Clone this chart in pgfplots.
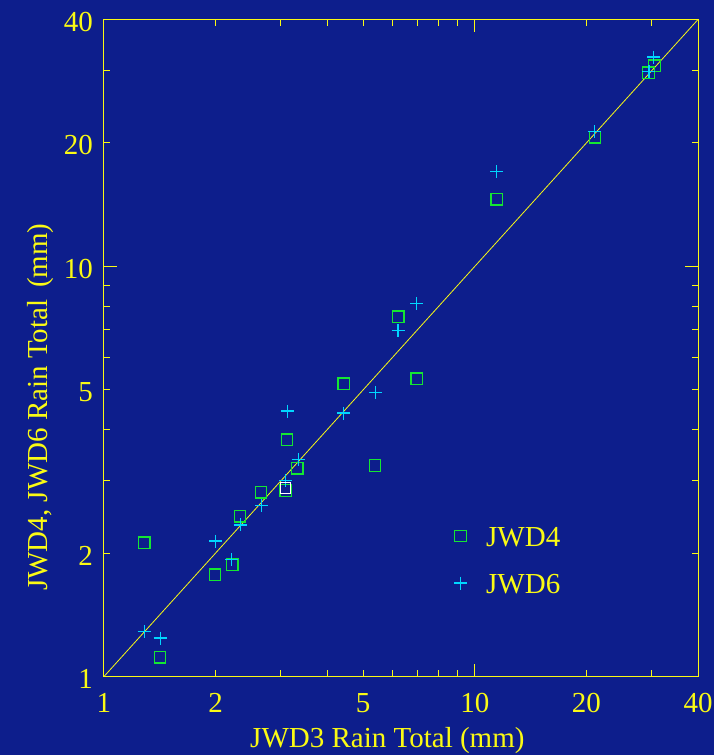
\documentclass[border=0pt]{standalone}
\usepackage{pgfplots}
\pgfplotsset{compat=1.18}
\usepackage{fontspec}
\setmainfont{Liberation Serif}
\definecolor{bg}{RGB}{13,30,140}
\definecolor{yel}{RGB}{250,250,20}
\definecolor{grn}{RGB}{20,230,50}
\definecolor{cyn}{RGB}{0,215,255}
\begin{document}
\begin{tikzpicture}
\path[fill=bg, use as bounding box] (-104pt,-78.5pt) rectangle (610pt,676.5pt);
\begin{axis}[
  scale only axis,
  width=594pt, height=657pt,
  anchor=south west, at={(0pt,0pt)},
  xmode=log, ymode=log,
  xmin=1, xmax=40, ymin=1, ymax=40,
  axis line style={yel, line width=1pt},
  tick style={yel, line width=1pt},
  tick align=inside,
  xtick={1,2,5,10,20,40}, xticklabels={1,2,5,10,20,40},
  ytick={1,2,5,10,20,40}, yticklabels={1,2,5,10,20,40},
  major tick length=0pt,
  minor xtick={2,3,4,5,6,7,8,9,20,30},
  minor ytick={2,3,4,5,6,7,8,9,20,30},
  minor tick length=6.5pt,
  extra x ticks={10}, extra x tick labels={},
  extra y ticks={10}, extra y tick labels={},
  extra tick style={major tick length=13pt},
  /pgf/number format/assume math mode=true,
  tick label style={font=\fontsize{29}{34}\selectfont, text=yel, inner sep=0pt},
  xticklabel style={anchor=base, yshift=-36pt},
  yticklabel style={anchor=east, xshift=-11pt, yshift=-2.5pt},
  label style={font=\fontsize{29}{34}\selectfont, text=yel, inner sep=0pt},
  xlabel={JWD3 Rain Total (mm)},
  xlabel style={at={(axis description cs:0.477,-0.1088)}, anchor=base},
  ylabel={JWD4, JWD6 Rain Total\hspace{0.4em}(mm)},
  ylabel style={at={(axis description cs:-0.0943,0.41)}, anchor=base, rotate=0},
  legend style={draw=none, fill=none, text=yel, font=\fontsize{29}{34}\selectfont,
    inner sep=0pt, outer sep=0pt,
    at={(axis description cs:0.589,0.229)}, anchor=north west,
    row sep=27pt,
    nodes={inner sep=0pt, text height=20pt, text depth=0pt}},
  legend cell align=left,
  legend image code/.code={\draw[#1] plot coordinates {(0pt,0pt)}; \path (-6pt,0pt) (25pt,0pt);},
]
\addplot[yel, line width=0.8pt, forget plot] coordinates {(1,1) (40,40)};
\addplot[only marks, mark=square, mark size=5.8pt, grn, line width=1.3pt] coordinates {
(1.284,2.12) (1.416,1.114) (1.993,1.771) (2.218,1.874) (2.327,2.459)
(2.651,2.814) (3.09,2.84) (3.115,3.78) (3.32,3.22) (4.43,5.17)
(5.38,3.27) (6.22,7.54) (6.98,5.32) (11.46,14.58) (21.1,20.66)
(29.44,29.65) (30.56,30.83)};
\addlegendentry{JWD4}
\addplot[only marks, mark=+, mark size=6.5pt, cyn, line width=1.2pt] coordinates {
(1.284,1.286) (1.418,1.241) (2.0,2.14) (2.21,1.927) (2.33,2.342)
(2.656,2.61) (3.09,3.0) (3.13,4.44) (3.34,3.38) (4.43,4.39)
(5.39,4.93) (6.21,6.97) (6.98,8.12) (11.46,17.03) (21.0,21.3)
(29.5,29.86) (30.4,32.4)};
\addlegendentry{JWD6}
\addplot[only marks, mark=square, mark size=5.2pt, white, line width=1pt, forget plot] coordinates {(3.09,2.88)};
\end{axis}
\end{tikzpicture}
\end{document}
